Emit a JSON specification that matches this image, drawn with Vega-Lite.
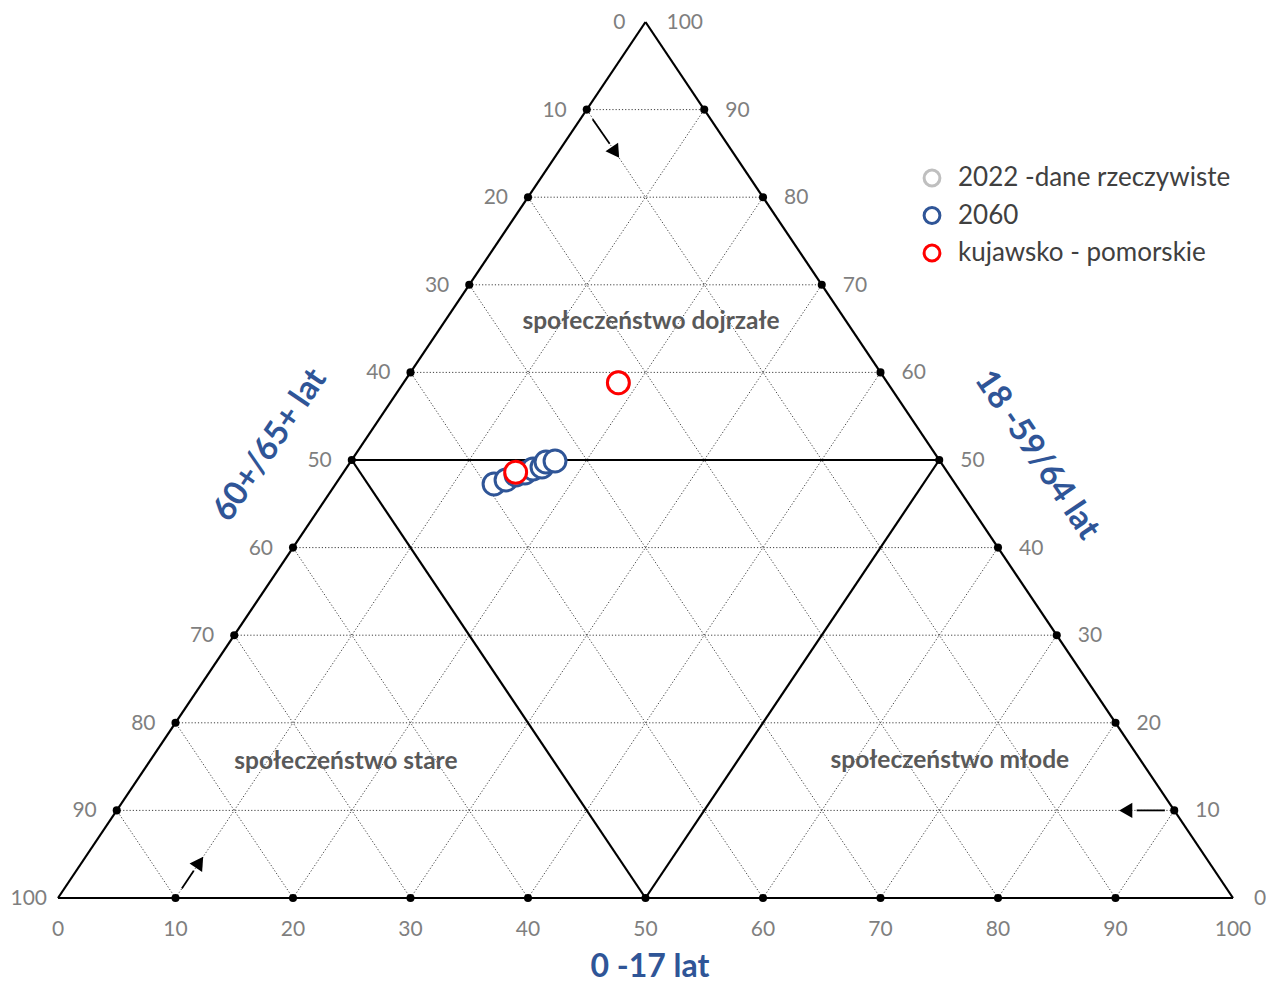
{
  "$schema": "https://vega.github.io/schema/vega-lite/v6.json",
  "autosize": {"type": "none"},
  "padding": {"left": 58, "top": 22, "right": 33, "bottom": 87},
  "width": 1175,
  "height": 876,
  "background": "white",
  "config": {"view": {"stroke": null}, "font": "Lato"},
  "datasets": {
    "grid": [
      {"x": 5, "y": 10, "x2": 95, "y2": 10}, {"x": 10, "y": 20, "x2": 90, "y2": 20}, {"x": 15, "y": 30, "x2": 85, "y2": 30},
      {"x": 20, "y": 40, "x2": 80, "y2": 40}, {"x": 30, "y": 60, "x2": 70, "y2": 60},
      {"x": 35, "y": 70, "x2": 65, "y2": 70}, {"x": 40, "y": 80, "x2": 60, "y2": 80}, {"x": 45, "y": 90, "x2": 55, "y2": 90},
      {"x": 10, "y": 0, "x2": 55, "y2": 90}, {"x": 20, "y": 0, "x2": 60, "y2": 80}, {"x": 30, "y": 0, "x2": 65, "y2": 70},
      {"x": 40, "y": 0, "x2": 70, "y2": 60}, {"x": 60, "y": 0, "x2": 80, "y2": 40},
      {"x": 70, "y": 0, "x2": 85, "y2": 30}, {"x": 80, "y": 0, "x2": 90, "y2": 20}, {"x": 90, "y": 0, "x2": 95, "y2": 10},
      {"x": 90, "y": 0, "x2": 45, "y2": 90}, {"x": 80, "y": 0, "x2": 40, "y2": 80}, {"x": 70, "y": 0, "x2": 35, "y2": 70},
      {"x": 60, "y": 0, "x2": 30, "y2": 60}, {"x": 40, "y": 0, "x2": 20, "y2": 40},
      {"x": 30, "y": 0, "x2": 15, "y2": 30}, {"x": 20, "y": 0, "x2": 10, "y2": 20}, {"x": 10, "y": 0, "x2": 5, "y2": 10}
    ],
    "frame": [
      {"x": 0, "y": 0, "x2": 100, "y2": 0}, {"x": 0, "y": 0, "x2": 50, "y2": 100}, {"x": 100, "y": 0, "x2": 50, "y2": 100},
      {"x": 25, "y": 50, "x2": 75, "y2": 50}, {"x": 25, "y": 50, "x2": 50, "y2": 0}, {"x": 75, "y": 50, "x2": 50, "y2": 0}
    ],
    "dots": [
      {"x": 10, "y": 0}, {"x": 20, "y": 0}, {"x": 30, "y": 0}, {"x": 40, "y": 0}, {"x": 50, "y": 0}, {"x": 60, "y": 0}, {"x": 70, "y": 0}, {"x": 80, "y": 0}, {"x": 90, "y": 0},
      {"x": 5, "y": 10}, {"x": 10, "y": 20}, {"x": 15, "y": 30}, {"x": 20, "y": 40}, {"x": 25, "y": 50}, {"x": 30, "y": 60}, {"x": 35, "y": 70}, {"x": 40, "y": 80}, {"x": 45, "y": 90},
      {"x": 95, "y": 10}, {"x": 90, "y": 20}, {"x": 85, "y": 30}, {"x": 80, "y": 40}, {"x": 75, "y": 50}, {"x": 70, "y": 60}, {"x": 65, "y": 70}, {"x": 60, "y": 80}, {"x": 55, "y": 90}
    ],
    "bottomLabels": [
      {"x": 0, "y": 0, "t": "0"}, {"x": 10, "y": 0, "t": "10"}, {"x": 20, "y": 0, "t": "20"}, {"x": 30, "y": 0, "t": "30"}, {"x": 40, "y": 0, "t": "40"}, {"x": 50, "y": 0, "t": "50"},
      {"x": 60, "y": 0, "t": "60"}, {"x": 70, "y": 0, "t": "70"}, {"x": 80, "y": 0, "t": "80"}, {"x": 90, "y": 0, "t": "90"}, {"x": 100, "y": 0, "t": "100"}
    ],
    "leftLabels": [
      {"x": 50, "y": 100, "t": "0"}, {"x": 45, "y": 90, "t": "10"}, {"x": 40, "y": 80, "t": "20"}, {"x": 35, "y": 70, "t": "30"}, {"x": 30, "y": 60, "t": "40"},
      {"x": 25, "y": 50, "t": "50"}, {"x": 20, "y": 40, "t": "60"}, {"x": 15, "y": 30, "t": "70"}, {"x": 10, "y": 20, "t": "80"}, {"x": 5, "y": 10, "t": "90"}
    ],
    "leftCorner": [{"x": 0, "y": 0, "t": "100"}],
    "rightLabels": [
      {"x": 50, "y": 100, "t": "100"}, {"x": 55, "y": 90, "t": "90"}, {"x": 60, "y": 80, "t": "80"}, {"x": 65, "y": 70, "t": "70"}, {"x": 70, "y": 60, "t": "60"},
      {"x": 75, "y": 50, "t": "50"}, {"x": 80, "y": 40, "t": "40"}, {"x": 85, "y": 30, "t": "30"}, {"x": 90, "y": 20, "t": "20"}, {"x": 95, "y": 10, "t": "10"}, {"x": 100, "y": 0, "t": "0"}
    ],
    "regions": [
      {"x": 50.47, "y": 65.75, "t": "społeczeństwo dojrzałe"},
      {"x": 24.5, "y": 15.55, "t": "społeczeństwo stare"},
      {"x": 75.9, "y": 15.65, "t": "społeczeństwo młode"}
    ],
    "arrowLines": [
      {"x": 45.5, "y": 88.9, "x2": 46.95, "y2": 86.1},
      {"x": 94.2, "y": 10, "x2": 91.8, "y2": 10},
      {"x": 10.54, "y": 1.08, "x2": 11.55, "y2": 3.1}
    ],
    "points": [
      {"series": "2022 -dane rzeczywiste", "x": 47.69, "y": 58.82},
      {"series": "2060", "x": 37.11, "y": 47.26},
      {"series": "2060", "x": 38.13, "y": 47.72},
      {"series": "2060", "x": 38.98, "y": 48.29},
      {"series": "2060", "x": 39.74, "y": 48.52},
      {"series": "2060", "x": 40.43, "y": 48.97},
      {"series": "2060", "x": 41.19, "y": 49.2},
      {"series": "2060", "x": 41.53, "y": 49.77},
      {"series": "2060", "x": 42.3, "y": 49.89},
      {"series": "kujawsko - pomorskie", "x": 38.95, "y": 48.6},
      {"series": "kujawsko - pomorskie", "x": 47.69, "y": 58.82}
    ]
  },
  "encoding": {
    "x": {"field": "x", "type": "quantitative", "scale": {"domain": [0, 100], "nice": false, "zero": false}, "axis": null},
    "y": {"field": "y", "type": "quantitative", "scale": {"domain": [0, 100], "nice": false, "zero": false}, "axis": null}
  },
  "layer": [
    {
      "data": {"name": "grid"},
      "mark": {"type": "rule", "color": "#404040", "strokeWidth": 1, "strokeDash": [1.2, 2]},
      "encoding": {"x2": {"field": "x2"}, "y2": {"field": "y2"}}
    },
    {
      "data": {"name": "frame"},
      "mark": {"type": "rule", "color": "#000000", "strokeWidth": 2.2},
      "encoding": {"x2": {"field": "x2"}, "y2": {"field": "y2"}}
    },
    {
      "data": {"name": "arrowLines"},
      "mark": {"type": "rule", "color": "#000000", "strokeWidth": 1.8},
      "encoding": {"x2": {"field": "x2"}, "y2": {"field": "y2"}}
    },
    {
      "data": {"values": [{"x": 47.34, "y": 85.32}]},
      "mark": {"type": "point", "shape": "triangle", "filled": true, "color": "#000000", "size": 230, "angle": 146, "opacity": 1}
    },
    {
      "data": {"values": [{"x": 91.06, "y": 10}]},
      "mark": {"type": "point", "shape": "triangle", "filled": true, "color": "#000000", "size": 230, "angle": 270, "opacity": 1}
    },
    {
      "data": {"values": [{"x": 11.94, "y": 3.88}]},
      "mark": {"type": "point", "shape": "triangle", "filled": true, "color": "#000000", "size": 230, "angle": 34, "opacity": 1}
    },
    {
      "data": {"name": "dots"},
      "mark": {"type": "circle", "color": "#000000", "size": 65, "opacity": 1}
    },
    {
      "data": {"name": "bottomLabels"},
      "mark": {"type": "text", "font": "Lato", "fontSize": 21, "color": "#7f7f7f", "align": "center", "baseline": "middle", "dy": 32},
      "encoding": {"text": {"field": "t"}}
    },
    {
      "data": {"name": "leftLabels"},
      "mark": {"type": "text", "font": "Lato", "fontSize": 21, "color": "#7f7f7f", "align": "right", "baseline": "middle", "dx": -20, "dy": 1},
      "encoding": {"text": {"field": "t"}}
    },
    {
      "data": {"name": "leftCorner"},
      "mark": {"type": "text", "font": "Lato", "fontSize": 21, "color": "#7f7f7f", "align": "right", "baseline": "middle", "dx": -11, "dy": 1},
      "encoding": {"text": {"field": "t"}}
    },
    {
      "data": {"name": "rightLabels"},
      "mark": {"type": "text", "font": "Lato", "fontSize": 21, "color": "#7f7f7f", "align": "left", "baseline": "middle", "dx": 21, "dy": 1},
      "encoding": {"text": {"field": "t"}}
    },
    {
      "data": {"name": "regions"},
      "mark": {"type": "text", "font": "Lato", "fontSize": 24.5, "fontWeight": "bold", "color": "#595959", "align": "center", "baseline": "middle"},
      "encoding": {"text": {"field": "t"}}
    },
    {
      "data": {"values": [{"x": 50.38, "y": -7.9, "t": "0 -17 lat"}]},
      "mark": {"type": "text", "font": "Lato", "fontSize": 32, "fontWeight": "bold", "color": "#2F5597", "align": "center", "baseline": "middle"},
      "encoding": {"text": {"field": "t"}}
    },
    {
      "data": {"values": [{"x": 18.04, "y": 51.71, "t": "60+/65+ lat"}]},
      "mark": {"type": "text", "font": "Lato", "fontSize": 33, "fontWeight": "bold", "color": "#2F5597", "align": "center", "baseline": "middle", "angle": -56},
      "encoding": {"text": {"field": "t"}}
    },
    {
      "data": {"values": [{"x": 83.32, "y": 50.57, "t": "18 -59/64 lat"}]},
      "mark": {"type": "text", "font": "Lato", "fontSize": 33, "fontWeight": "bold", "color": "#2F5597", "align": "center", "baseline": "middle", "angle": 56},
      "encoding": {"text": {"field": "t"}}
    },
    {
      "data": {"name": "points"},
      "mark": {"type": "point", "shape": "circle", "filled": false, "fill": "white", "fillOpacity": 1, "strokeWidth": 3, "size": 480, "opacity": 1},
      "encoding": {
        "stroke": {
          "field": "series", "type": "nominal",
          "scale": {"domain": ["2022 -dane rzeczywiste", "2060", "kujawsko - pomorskie"], "range": ["#BFBFBF", "#2F5597", "#FF0000"]},
          "legend": {
            "title": null, "orient": "none", "legendX": 861, "legendY": 143,
            "symbolType": "circle", "symbolSize": 250, "symbolStrokeWidth": 3, "symbolFillColor": "white",
            "labelFont": "Lato", "labelFontSize": 26, "labelColor": "#404040", "labelOffset": 13, "rowPadding": 9.5, "labelLimit": 400
          }
        }
      }
    }
  ]
}
